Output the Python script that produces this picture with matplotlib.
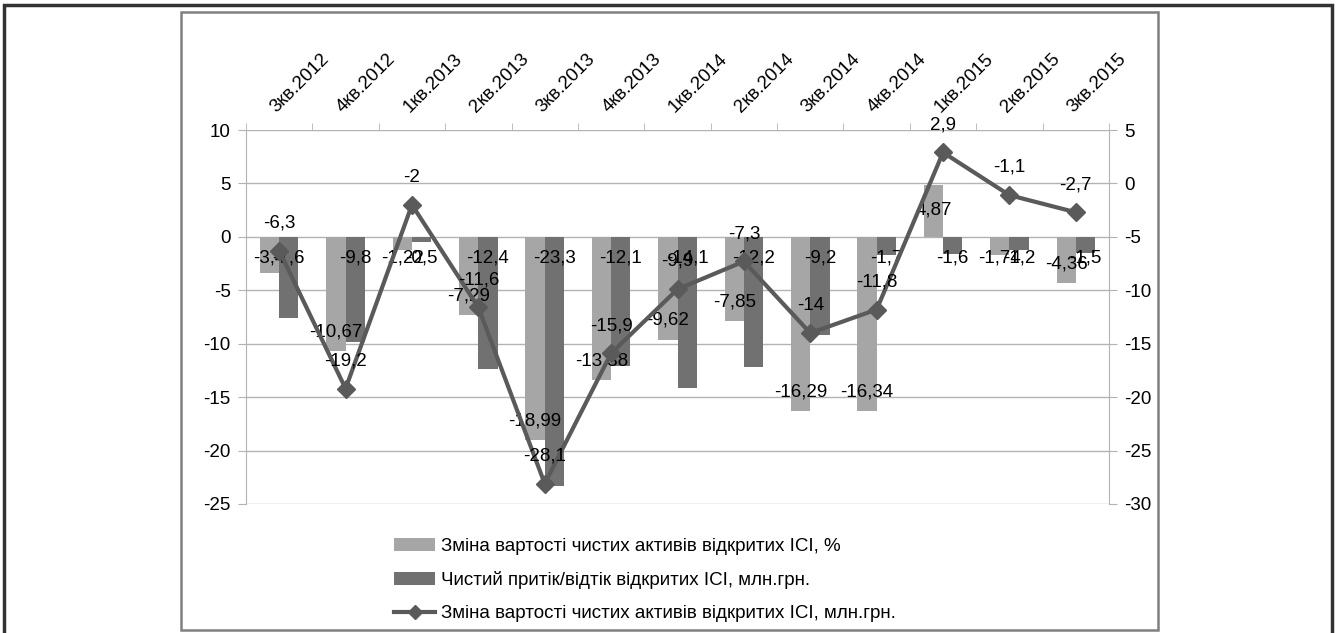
import numpy as np
import matplotlib
matplotlib.use("Agg")
import matplotlib.pyplot as plt
from matplotlib.patches import Rectangle

plt.rcParams['font.family'] = ['Liberation Sans', 'DejaVu Sans']
plt.rcParams['axes.unicode_minus'] = False

# data
quarters = ['3кв.2012', '4кв.2012', '1кв.2013', '2кв.2013', '3кв.2013', '4кв.2013',
            '1кв.2014', '2кв.2014', '3кв.2014', '4кв.2014', '1кв.2015', '2кв.2015', '3кв.2015']
nav_change_pct = [-3.4, -10.67, -1.22, -7.29, -18.99, -13.38, -9.62, -7.85, -16.29, -16.34, 4.87, -1.74, -4.36]
net_flow = [-7.6, -9.8, -0.5, -12.4, -23.3, -12.1, -14.1, -12.2, -9.2, -1.7, -1.6, -1.2, -1.5]
nav_change_mln = [-6.3, -19.2, -2, -11.6, -28.1, -15.9, -9.9, -7.3, -14, -11.8, 2.9, -1.1, -2.7]

label_pct = 'Зміна вартості чистих активів відкритих ІСІ, %'
label_flow = 'Чистий притік/відтік відкритих ІСІ, млн.грн.'
label_mln = 'Зміна вартості чистих активів відкритих ІСІ, млн.грн.'

light = '#a6a6a6'
dark = '#717171'
line_c = '#5a5a5a'
grid_c = '#b3b3b3'
fs = 13.5


def fmt(v):
    return ('%g' % v).replace('.', ',')


fig = plt.figure(figsize=(13.36, 6.33), dpi=100)

# outer and inner frames
fig.patches.append(Rectangle((4 / 1336, -0.05), 1328 / 1336, 1.05 - 5 / 633, transform=fig.transFigure,
                             fill=False, edgecolor='#333333', linewidth=2.5))
fig.patches.append(Rectangle((181 / 1336, 3 / 633), 977 / 1336, 618 / 633, transform=fig.transFigure,
                             fill=False, edgecolor='#808080', linewidth=1.8))

ax = fig.add_axes([246 / 1336, 1 - 504 / 633, (1109 - 246) / 1336, 374 / 633])
ax2 = ax.twinx()

x = np.arange(len(quarters))
w = 0.29
ax.bar(x - w / 2, nav_change_pct, width=w, color=light, label=label_pct, zorder=2)
ax.bar(x + w / 2, net_flow, width=w, color=dark, label=label_flow, zorder=2)
ax2.plot(x, nav_change_mln, color=line_c, linewidth=3, marker='D', markersize=9,
         label=label_mln, zorder=3)

ax.set_xlim(-0.5, len(quarters) - 0.5)
ax.set_ylim(-25, 10)
ax2.set_ylim(-30, 5)
ax.set_yticks(np.arange(-25, 11, 5))
ax2.set_yticks(np.arange(-30, 6, 5))

ax.yaxis.grid(True, color=grid_c, linewidth=1)
ax.set_axisbelow(True)

for a in (ax, ax2):
    for s in a.spines.values():
        s.set_visible(False)
ax.spines['left'].set_visible(True)
ax.spines['left'].set_color(grid_c)
ax2.spines['right'].set_visible(True)
ax2.spines['right'].set_color(grid_c)

ax.tick_params(axis='y', labelsize=fs, length=6, color=grid_c, pad=5)
ax2.tick_params(axis='y', labelsize=fs, length=6, color=grid_c, pad=5)

# category axis on top
ax.xaxis.tick_top()
ax.set_xticks(x)
ax.set_xticklabels(quarters, rotation=45, ha='left', va='bottom', rotation_mode='anchor', fontsize=fs)
ax.set_xticks(np.arange(-0.5, len(quarters), 1), minor=True)
ax.tick_params(axis='x', which='major', length=0, pad=10)
ax.tick_params(axis='x', which='minor', length=5, color=grid_c, top=True, bottom=False)

# data labels
for i in range(len(quarters)):
    v = nav_change_pct[i]
    ly = v - 2.4 if v > 0 else min(v + 1.8, -2)
    ax.text(x[i] - w / 2, ly, fmt(v), ha='center', va='center', fontsize=fs, zorder=5)
    ax.text(x[i] + w / 2, -2, fmt(net_flow[i]), ha='center', va='center', fontsize=fs, zorder=5)
    ax2.annotate(fmt(nav_change_mln[i]), (x[i], nav_change_mln[i]), xytext=(0, 20),
                 textcoords='offset points', ha='center', va='center', fontsize=fs, zorder=5)

h1, l1 = ax.get_legend_handles_labels()
h2, l2 = ax2.get_legend_handles_labels()
leg = fig.legend(h1 + h2, l1 + l2, loc='center', bbox_to_anchor=(645 / 1336, 1 - 580 / 633), ncol=1,
                 frameon=False, fontsize=fs, handlelength=2.2, handletextpad=0.3, labelspacing=0.85,
                 borderaxespad=0, markerscale=0.75)

fig.savefig('out.png', dpi=100)
